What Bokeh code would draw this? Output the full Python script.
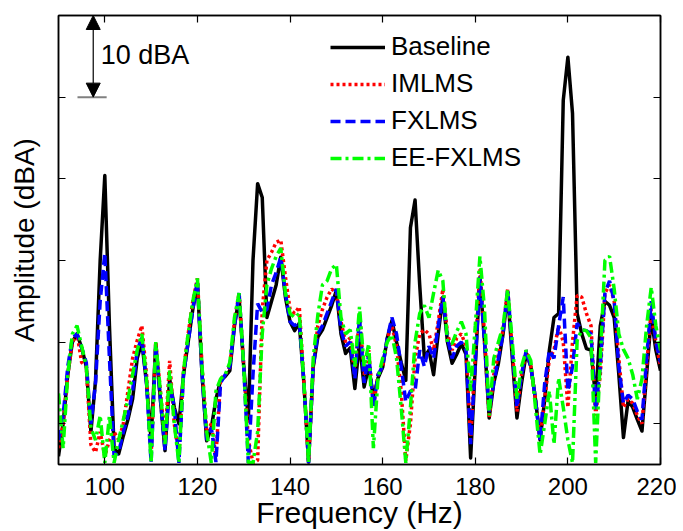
from bokeh.plotting import figure
from bokeh.models import (Range1d, FixedTicker, LinearAxis, Legend, LegendItem,
                          Arrow, NormalHead, Label, ColumnDataSource,
                          CustomJSTickFormatter)
from bokeh.embed import file_html
from bokeh.resources import INLINE

# ---------------- data ----------------
freq = list(range(90, 221))

baseline = [
    6, 10, 16, 20, 21, 19.3, 17, 9, 15.3, 30,              # 90-99
    40.4, 22, 7, 6.3, 8.5, 10.5, 13, 18, 20, 15,           # 100-109
    8, 19.8, 13, 6.7, 15.5, 12, 10, 16, 20, 24,            # 110-119
    27.2, 16, 7.9, 9.5, 13, 15.3, 15.8, 16.5, 22, 25.5,    # 120-129
    17, 10.5, 30, 39.4, 37.7, 23, 25, 27, 30.4, 25.5,      # 130-139
    22.5, 21.4, 22.3, 14.9, 5.3, 16.9, 20.6, 21.5, 23, 24.5,  # 140-149
    26.3, 21, 18.6, 19.3, 14.3, 20, 14.5, 17, 13.2, 15.6,  # 150-159
    16.9, 20.5, 22.6, 20, 17.5, 15.3, 34, 37.4, 27, 18.1,  # 160-169
    19, 16, 21, 25.5, 20, 17.4, 18.5, 19.8, 18.5, 5.8,     # 170-179
    17, 27.9, 20, 10.7, 15, 17.4, 21, 26, 18, 10.7,        # 180-189
    15, 18.6, 17, 13, 8, 13, 19, 23, 23.5, 49.6,           # 190-199
    54.9, 48, 23.5, 21, 19.2, 19, 13, 22, 25, 24.5,        # 200-209
    23, 16, 8.3, 12.8, 12, 10.5, 9.1, 16, 23, 19,          # 210-219
    16.5,                                                  # 220
]

imlms = [
    7, 10, 16, 20, 21, 17.5, 17, 7.4, 6.5, 9,
    6, 8, 9, 8, 10, 14, 18, 20.2, 22, 16,
    6, 20, 14, 8, 17.7, 10, 6, 16.5, 21, 25,
    27.8, 17, 9, 10, 6, 15.5, 16, 17, 22.5, 26,
    17, 8, 5.2, 5.5, 24, 30, 31, 32.2, 32.5, 28,
    24, 23.5, 24.3, 15, 5.3, 17, 22, 24, 25.5, 26.5,
    26, 22.5, 20, 20.5, 16, 23.5, 16, 19, 12, 16,
    17, 20.5, 22, 19.5, 14, 5.5, 10, 18, 21, 21.5,
    21, 19, 22.5, 26.5, 21, 19, 20.5, 21, 19.5, 8,
    18.5, 29, 21, 10.7, 16, 18.5, 21.5, 26.5, 19, 11.5,
    16, 19, 17, 13, 8, 13, 18, 19, 22, 20,
    12, 20, 25.7, 25.5, 23.5, 22, 11, 16, 26, 27,
    25, 18, 12, 13, 12.5, 11, 10, 17, 24, 20,
    17,
]

fxlms = [
    8, 11, 17, 20.5, 21, 19.3, 17.5, 10, 15, 25,
    30.9, 18, 6, 6.5, 9, 11, 14, 19, 20.5, 15,
    5.2, 19.5, 13, 6.7, 15, 12, 5.2, 16, 20, 24,
    27.5, 16, 8, 9.5, 5.3, 15, 16, 17, 22, 26,
    17, 5.2, 16, 24.7, 23.6, 24, 27, 28.5, 30.4, 26,
    22.5, 22, 22.5, 15, 5.2, 17, 21, 22, 23.5, 25,
    26.5, 21.5, 19.5, 20, 15.5, 23, 15, 18.5, 12, 16,
    17, 20.5, 23, 21, 17, 12.7, 14, 14, 19, 17,
    19.5, 18, 22, 25.5, 20.5, 18, 19.5, 20, 19, 7.5,
    17.5, 28, 20, 11.5, 15, 18, 21, 26.5, 19, 12,
    16, 19, 17, 13, 7.9, 15, 19, 18, 22, 25.5,
    14, 17, 22.3, 21.5, 21.4, 21, 11.6, 17, 26, 27.5,
    25, 17, 12.5, 13.5, 13, 11.5, 10.5, 18, 25, 20,
    17.5,
]

eefxlms = [
    13.7, 7, 16, 21, 22, 19.5, 17, 9.5, 8, 11,
    5.2, 11, 5.2, 8, 10.5, 13, 16, 19, 21, 15.5,
    5.2, 20, 14, 7.5, 16.5, 10, 5.2, 16.5, 21, 25,
    27.8, 17, 9, 5.2, 14, 15.5, 16, 17.5, 23, 26,
    17, 5.2, 5.2, 9, 21, 27, 29, 30.5, 31.5, 26,
    23.5, 23, 23.5, 15, 5.2, 18, 23.3, 27, 27.5, 29,
    29.5, 23, 21, 21.5, 17, 24.3, 17, 19.8, 7, 15.6,
    18, 20, 20.9, 18, 12, 5.2, 12, 20, 23.5, 24.5,
    23, 26, 28.8, 27.5, 20, 19.8, 21.3, 22.5, 21, 14,
    22, 30.5, 24, 11, 18, 20, 22, 26.4, 20, 13,
    17, 19, 17.7, 12, 6.2, 10, 14, 7.5, 15.6, 12,
    8, 5.2, 20.2, 21.5, 21.4, 20.5, 5.2, 18, 30, 30.5,
    26.5, 21, 19.1, 18, 16, 13, 15.5, 22, 26.7, 22,
    19,
]

series_names = ["Baseline", "IMLMS", "FXLMS", "EE-FXLMS"]
x_ticks = [100, 120, 140, 160, 180, 200, 220]
y_ticks = [10, 20, 30, 40, 50]

# ---------------- figure ----------------
FONT = "Liberation Sans"
blank = CustomJSTickFormatter(code="return ''")

p = figure(frame_width=602, frame_height=449,
           x_range=Range1d(90, 220), y_range=Range1d(5, 60),
           output_backend="svg", toolbar_location=None,
           min_border_left=58, min_border_right=16, min_border_top=15,
           min_border_bottom=10,
           x_axis_label="Frequency (Hz)", y_axis_label="Amplitude (dBA)")
p.grid.visible = False
p.outline_line_color = "black"
p.outline_line_width = 1.5
p.background_fill_color = "white"
p.border_fill_color = "white"

xa = p.xaxis[0]
xa.ticker = FixedTicker(ticks=x_ticks)
xa.major_tick_in = 7
xa.major_tick_out = 0
xa.minor_tick_line_color = None
xa.axis_line_width = 1.5
xa.major_tick_line_width = 1.2
xa.major_label_text_font = FONT
xa.major_label_text_font_size = "24px"
xa.major_label_text_color = "black"
xa.major_label_standoff = 13
xa.axis_label_text_font = FONT
xa.axis_label_text_font_size = "30px"
xa.axis_label_text_font_style = "normal"
xa.axis_label_text_color = "black"
xa.axis_label_standoff = -2

ya = p.yaxis[0]
ya.ticker = FixedTicker(ticks=y_ticks)
ya.formatter = blank
ya.major_tick_in = 7
ya.major_tick_out = 0
ya.minor_tick_line_color = None
ya.axis_line_width = 1.5
ya.major_tick_line_width = 1.2
ya.major_label_standoff = 0
ya.axis_label_text_font = FONT
ya.axis_label_text_font_size = "28px"
ya.axis_label_text_font_style = "normal"
ya.axis_label_text_color = "black"
ya.axis_label_standoff = 19

for ticks, side in ((x_ticks, "above"), (y_ticks, "right")):
    ax = LinearAxis(ticker=FixedTicker(ticks=ticks), formatter=blank,
                    major_tick_in=7, major_tick_out=0,
                    minor_tick_line_color=None, major_label_standoff=0,
                    axis_line_width=1.5, major_tick_line_width=1.2)
    p.add_layout(ax, side)

src = ColumnDataSource(dict(freq=freq, baseline=baseline, imlms=imlms,
                            fxlms=fxlms, eefxlms=eefxlms))

r_base = p.line("freq", "baseline", source=src, line_color="black",
                line_width=3.5, line_join="round")
r_iml = p.line("freq", "imlms", source=src, line_color="#ff0000",
               line_width=3.5, line_dash="3 3")
r_fx = p.line("freq", "fxlms", source=src, line_color="#0000ff",
              line_width=3.5, line_dash="10 5")
r_ee = p.line("freq", "eefxlms", source=src, line_color="#00ff00",
              line_width=3.5, line_dash="11 4 3 4")

legend = Legend(items=[LegendItem(label=n, renderers=[r])
                       for n, r in zip(series_names, [r_base, r_iml, r_fx, r_ee])],
                location=(272, 291), orientation="vertical",
                label_text_font=FONT, label_text_font_size="26px",
                label_text_color="black",
                glyph_width=55, glyph_height=30, label_height=30,
                spacing=6, padding=0, margin=0, label_standoff=6,
                border_line_color=None, background_fill_alpha=0)
p.add_layout(legend)

# ---------------- 10 dBA scale annotation ----------------
ARROW_X = 97.5
p.segment(x0=[94.1], y0=[50], x1=[100.4], y1=[50], line_color="#808080",
          line_width=2)
p.add_layout(Arrow(start=NormalHead(size=14, fill_color="black", line_color="black"),
                   end=NormalHead(size=14, fill_color="black", line_color="black"),
                   x_start=ARROW_X, y_start=50, x_end=ARROW_X, y_end=60,
                   line_color="black", line_width=1.2))
p.add_layout(Label(x=99.1, y=55.2, text="10 dBA", text_font=FONT,
                   text_font_size="27px", text_baseline="middle",
                   text_color="black"))

open("out.html", "w").write(file_html(p, INLINE))
